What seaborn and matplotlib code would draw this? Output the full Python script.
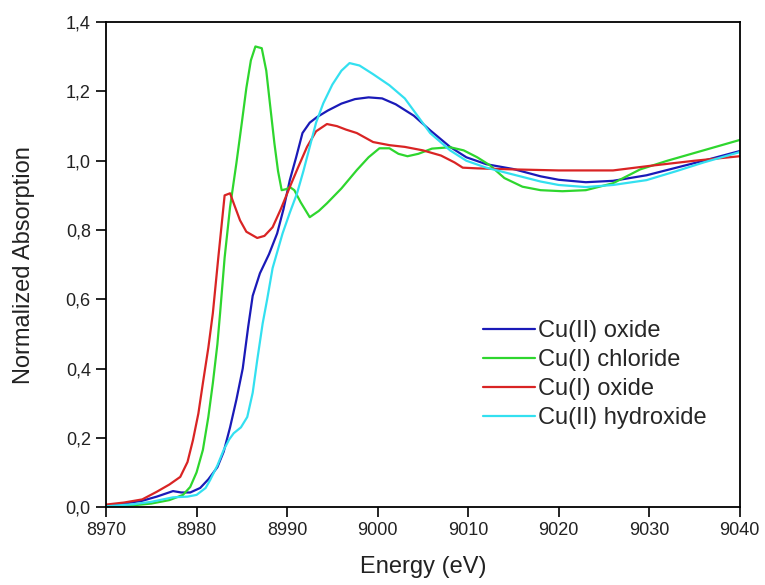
import numpy as np
import pandas as pd
import seaborn as sns
import matplotlib.pyplot as plt
from matplotlib.ticker import FuncFormatter

# Cu K-edge XANES spectra
cu2o_x = [8970, 8972, 8974, 8975.6, 8976.5, 8977.4, 8978.3, 8979.3, 8980.4, 8981.3, 8982.3, 8983,
          8983.7, 8984.4, 8985.1, 8985.7, 8986.2, 8987, 8988, 8988.9, 8989.6, 8990.3, 8991, 8991.7,
          8992.5, 8993.3, 8994.5, 8996, 8997.5, 8999, 9000.5, 9002, 9004, 9005.8, 9008, 9009.8,
          9012, 9015, 9018, 9020, 9023, 9026, 9029.7, 9033, 9036, 9040]
cuo_y = [0.003, 0.01, 0.018, 0.03, 0.038, 0.046, 0.042, 0.042, 0.055, 0.08, 0.115, 0.16,
         0.23, 0.31, 0.40, 0.52, 0.61, 0.675, 0.73, 0.79, 0.86, 0.944, 1.01, 1.08,
         1.11, 1.126, 1.145, 1.165, 1.178, 1.183, 1.18, 1.163, 1.13, 1.088, 1.04, 1.01,
         0.99, 0.976, 0.955, 0.945, 0.938, 0.942, 0.958, 0.98, 1.0, 1.028]

cuoh_x = [8970, 8973, 8975, 8977.4, 8979, 8980, 8981, 8981.5, 8982.3, 8983, 8983.6, 8984.1,
          8984.9, 8985.6, 8986.2, 8986.7, 8987.3, 8987.8, 8988.4, 8989.5, 8990.3, 8991.1, 8991.8,
          8992.5, 8993.2, 8994, 8995, 8996, 8996.9, 8998, 8999.5, 9001.3, 9003, 9005.8, 9008,
          9009.8, 9012, 9015, 9018, 9020, 9023, 9026, 9029.7, 9033, 9036, 9040]
cuoh_y = [0.002, 0.008, 0.015, 0.028, 0.03, 0.035, 0.055, 0.078, 0.12, 0.165, 0.195, 0.213,
          0.23, 0.26, 0.33, 0.424, 0.53, 0.60, 0.69, 0.79, 0.85, 0.906, 0.97,
          1.04, 1.11, 1.166, 1.22, 1.26, 1.282, 1.275, 1.25, 1.218, 1.18, 1.08, 1.03,
          1.0, 0.98, 0.96, 0.94, 0.93, 0.924, 0.93, 0.944, 0.97, 0.995, 1.025]

cucl_x = [8970, 8973, 8975, 8977, 8978.5, 8979.3, 8980, 8980.7, 8981.3, 8981.8, 8982.3, 8982.6,
          8983.1, 8983.7, 8984.4, 8985, 8985.5, 8986, 8986.5, 8987.2, 8987.7, 8988.1, 8988.6,
          8989, 8989.4, 8989.9, 8990.3, 8990.8, 8991.5, 8992.5, 8993.5, 8994.4, 8996, 8997.7,
          8999, 9000.2, 9001.3, 9002.3, 9003.3, 9004.5, 9006, 9008, 9009.5, 9011, 9012.4, 9014,
          9016, 9018, 9020.4, 9023, 9026, 9029, 9032, 9036, 9040]
cucl_y = [0.0, 0.005, 0.01, 0.02, 0.035, 0.058, 0.1, 0.165, 0.26, 0.358, 0.47, 0.56,
          0.72, 0.866, 0.993, 1.11, 1.21, 1.29, 1.33, 1.325, 1.26, 1.166, 1.05,
          0.97, 0.915, 0.918, 0.924, 0.915, 0.88, 0.837, 0.855, 0.877, 0.92, 0.973,
          1.01, 1.036, 1.036, 1.02, 1.013, 1.02, 1.035, 1.039, 1.03, 1.01, 0.987, 0.95,
          0.925, 0.915, 0.912, 0.915, 0.935, 0.975, 1.0, 1.03, 1.06]

cu1o_x = [8970, 8972, 8974, 8975.6, 8977, 8978.2, 8979, 8979.6, 8980.2, 8980.7, 8981.3, 8981.8,
          8982.4, 8983.1, 8983.7, 8984.2, 8984.8, 8985.5, 8986.7, 8987.5, 8988.4, 8989.3, 8990.3,
          8991.2, 8992.2, 8993.2, 8994.4, 8995.5, 8996.5, 8997.7, 8999.5, 9001.3, 9003, 9005,
          9007, 9008.5, 9009.4, 9011, 9015, 9020, 9026, 9030, 9035, 9040]
cu1o_y = [0.007, 0.013, 0.022, 0.044, 0.065, 0.087, 0.13, 0.193, 0.27, 0.358, 0.46, 0.56,
          0.72, 0.90, 0.906, 0.87, 0.828, 0.795, 0.777, 0.783, 0.808, 0.86, 0.924,
          0.98, 1.04, 1.085, 1.106, 1.1, 1.09, 1.08, 1.054, 1.045, 1.04, 1.03,
          1.015, 0.995, 0.98, 0.978, 0.975, 0.972, 0.972, 0.985, 1.0, 1.013]

labels = ['Cu(II) oxide', 'Cu(I) chloride', 'Cu(I) oxide', 'Cu(II) hydroxide']
colors = ['#1a1ab8', '#2ed62e', '#d92424', '#33e0f0']

frames = []
for lab, xs, ys in zip(labels, [cu2o_x, cucl_x, cu1o_x, cuoh_x], [cuo_y, cucl_y, cu1o_y, cuoh_y]):
    frames.append(pd.DataFrame({'Energy': xs, 'Absorption': ys, 'Sample': lab}))
df = pd.concat(frames, ignore_index=True)

sns.set_style('white')
plt.rcParams['font.family'] = ['Liberation Sans', 'DejaVu Sans']

fig, ax = plt.subplots(figsize=(7.65, 5.85), dpi=100)
fig.subplots_adjust(left=0.1386, right=0.967, top=0.962, bottom=0.1333)

sns.lineplot(data=df, x='Energy', y='Absorption', hue='Sample', hue_order=labels,
             palette=colors, sort=False, linewidth=1.6, ax=ax)

ax.set_xlim(8970, 9040)
ax.set_ylim(0, 1.4)
ax.set_xticks(np.arange(8970, 9041, 10))
ax.set_yticks(np.arange(0, 1.41, 0.2))
ax.yaxis.set_major_formatter(FuncFormatter(lambda v, p: f'{v:.1f}'.replace('.', ',')))
ax.tick_params(axis='both', which='major', direction='out', length=7, width=1.2, pad=4,
               labelsize=13, bottom=True, left=True, color='black', labelcolor='#222222')
for s in ax.spines.values():
    s.set_color('black')
    s.set_linewidth(1.3)

ax.set_xlabel('Energy (eV)', fontsize=17, color='#222222', labelpad=12)
ax.set_ylabel('Normalized Absorption', fontsize=17, color='#222222', labelpad=22)

leg = ax.legend(loc='upper left', bbox_to_anchor=(0.561, 0.43), frameon=False,
                fontsize=17, handlelength=2.2, handletextpad=0.15, labelspacing=0.3)
for line in leg.get_lines():
    line.set_linewidth(1.6)

plt.savefig('out.png', dpi=100)
